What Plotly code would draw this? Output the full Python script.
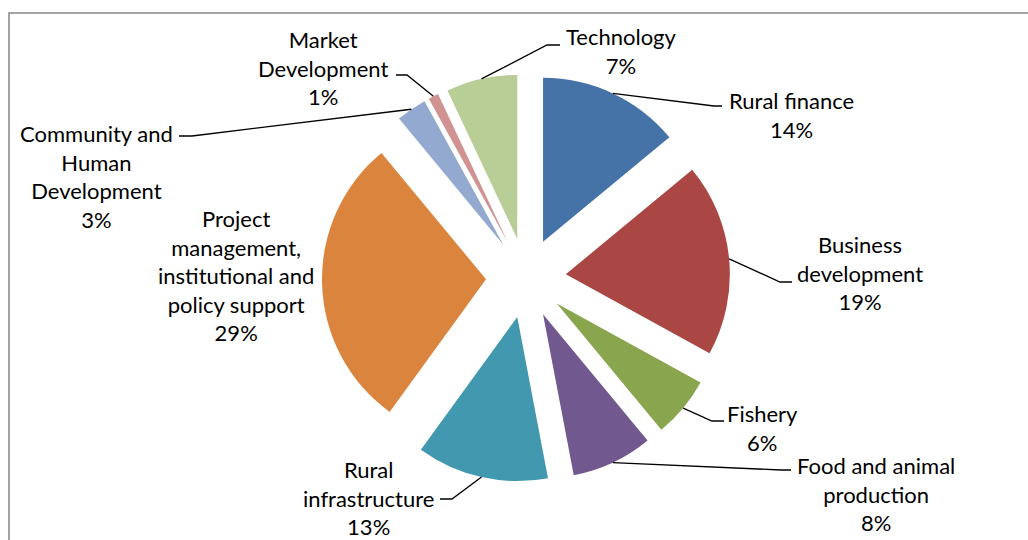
import math
import plotly.graph_objects as go

# ---- data ----
categories = ["Rural finance", "Business development", "Fishery",
              "Food and animal production", "Rural infrastructure",
              "Project management, institutional and policy support",
              "Community and Human Development", "Market Development", "Technology"]
values = [14, 19, 6, 8, 13, 29, 3, 1, 7]
label_lines = ["Rural finance", "Business<br>development", "Fishery",
               "Food and animal<br>production", "Rural<br>infrastructure",
               "Project<br>management,<br>institutional and<br>policy support",
               "Community and<br>Human<br>Development", "Market<br>Development", "Technology"]
colors = ["#4572A7", "#AA4643", "#89A54E", "#71588F", "#4198AF",
          "#DB843D", "#93A9CF", "#D19392", "#B9CD96"]

# ---- layout geometry (pixels) ----
W, H = 1028, 540
CX, CY, R, PULL = 526, 278, 164, 0.244
FONT = dict(family="Lato, Calibri, sans-serif", size=22, color="#000000")

# label block centres (pixels)
label_pos = [(791, 115), (860, 273), (762, 428), (876, 494), (368, 498),
             (236, 275), (96, 176), (323, 68), (621, 51)]
# leader line: elbow point and horizontal end (pixels); None = no leader
leaders = [((714, 106), 722), ((780, 282), 792), ((712, 421), 724),
           ((781, 470), 791), ((452, 499), 440), None,
           ((192, 136), 179), ((407, 75), 396), ((547, 45), 560)]


def px(x):
    return x / W


def py(y):
    return (H - y) / H


ext = R * (1 + PULL)
fig = go.Figure(go.Pie(
    labels=categories, values=values, sort=False, direction="clockwise",
    rotation=0, pull=PULL, marker=dict(colors=colors, line=dict(width=0)),
    textinfo="none", showlegend=False,
    domain=dict(x=[px(CX - ext), px(CX + ext)], y=[py(CY + ext), py(CY - ext)]),
))

total = sum(values)
shapes = []
annotations = []
cum = 0
for i, v in enumerate(values):
    mid = (cum + v / 2) / total * 2 * math.pi
    cum += v
    pct = round(v / total * 100)
    lx, ly = label_pos[i]
    annotations.append(dict(x=px(lx), y=py(ly), xref="paper", yref="paper",
                            text=f"{label_lines[i]}<br>{pct}%", showarrow=False,
                            xanchor="center", yanchor="middle", align="center",
                            font=FONT))
    if leaders[i] is not None:
        d = R * PULL
        sx = CX + (d + R) * math.sin(mid)
        sy = CY - (d + R) * math.cos(mid)
        (ex, ey), hx = leaders[i]
        path = f"M {px(sx)} {py(sy)} L {px(ex)} {py(ey)} L {px(hx)} {py(ey)}"
        shapes.append(dict(type="path", path=path, xref="paper", yref="paper",
                           line=dict(color="#000000", width=1.3)))

# chart border
shapes.append(dict(type="rect", xref="paper", yref="paper",
                   x0=px(9), y0=-0.05, x1=1.05, y1=py(13),
                   line=dict(color="#868686", width=1.5)))

fig.update_layout(width=W, height=H, margin=dict(l=0, r=0, t=0, b=0),
                  paper_bgcolor="white", plot_bgcolor="white",
                  shapes=shapes, annotations=annotations)
fig.write_html("out.html", config={"displayModeBar": False},
               post_script="document.body.style.margin='0px';")
